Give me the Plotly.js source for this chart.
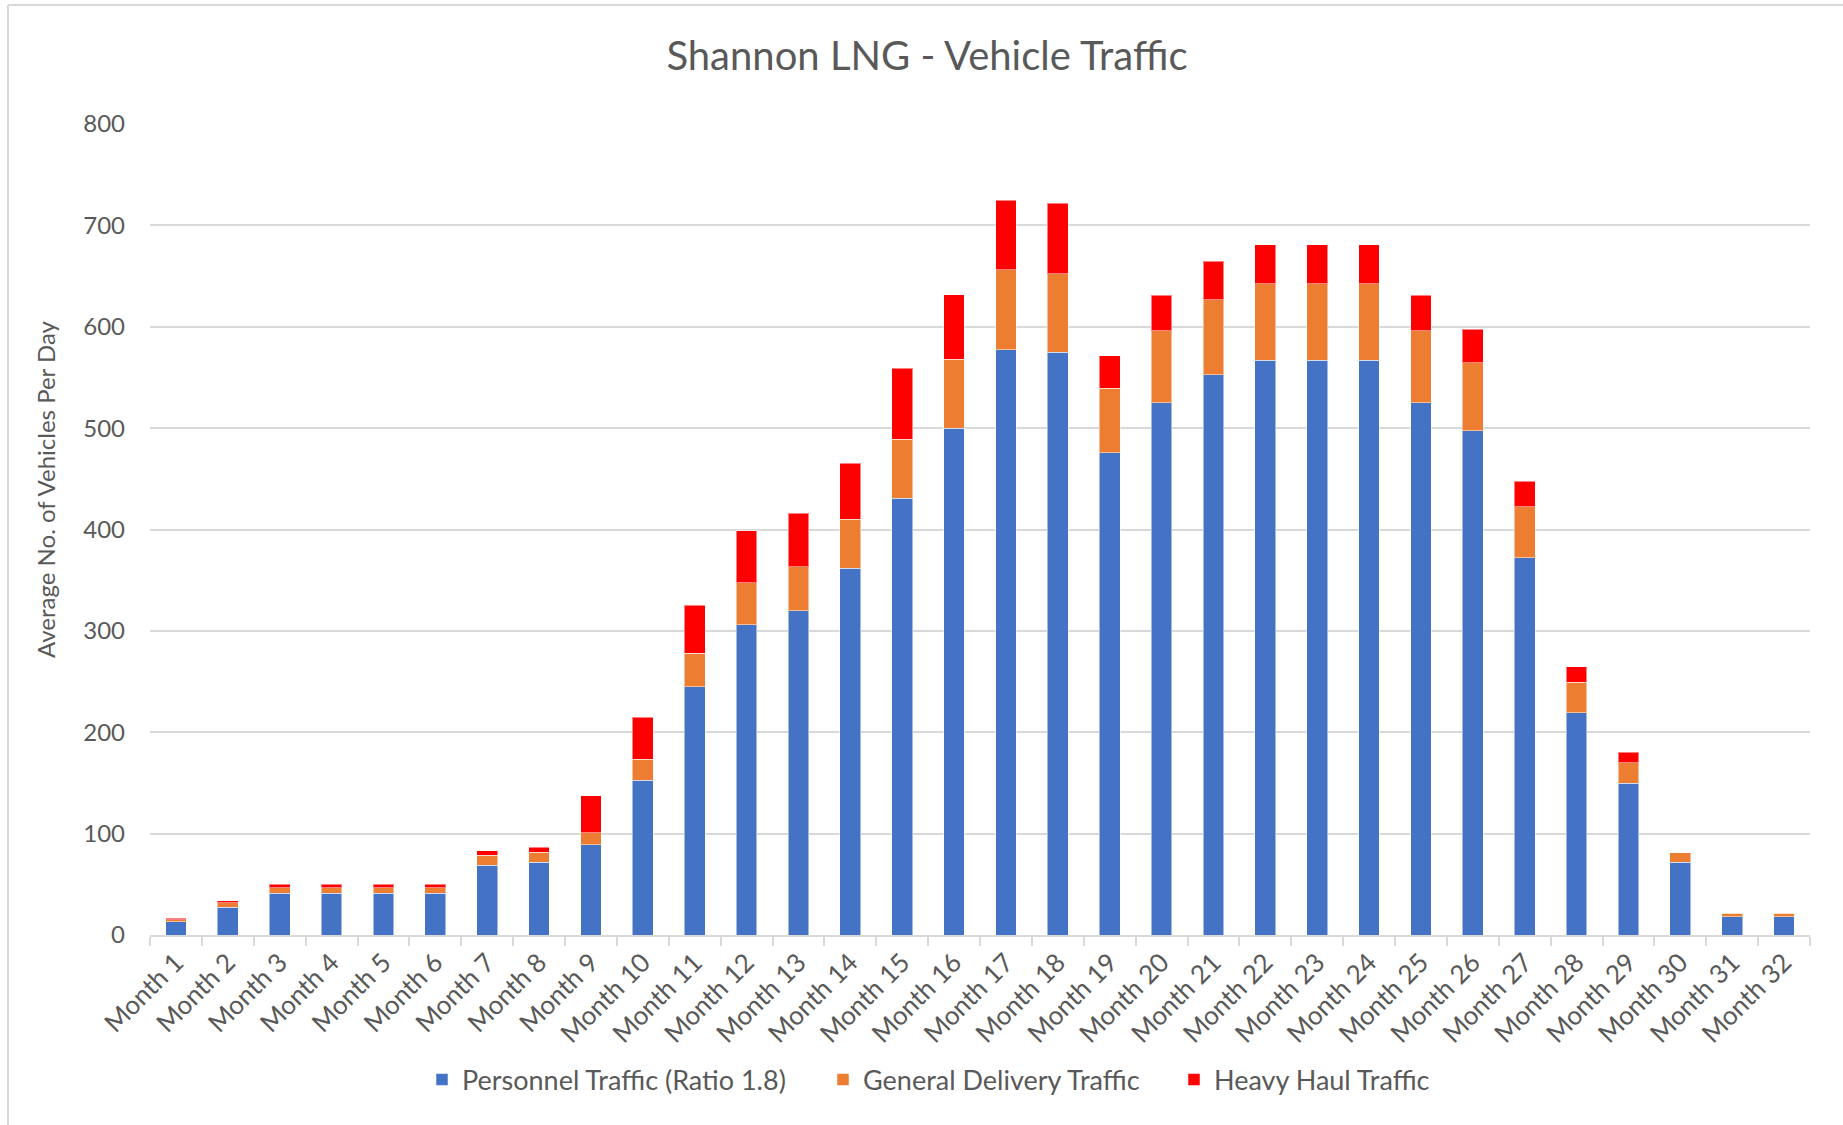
<!DOCTYPE html>
<html>
<head>
<meta charset="utf-8">
<script src="https://cdn.plot.ly/plotly-3.0.1.min.js"></script>
<style>
html,body{margin:0;padding:0;background:#fff;}
#chart{width:1843px;height:1125px;}
</style>
</head>
<body>
<div id="chart"></div>
<script>
const months = Array.from({length: 32}, (_, i) => 'Month ' + (i + 1));

const personnel = [13.2, 27.2, 41.1, 41.1, 41.1, 41.1, 68.9, 71.9, 88.8, 152.6,
  244.7, 305.9, 319.7, 361.7, 430.6, 500, 577.3, 575, 475.6, 524.8,
  552.7, 566.8, 566.8, 566.8, 524.8, 497.2, 372.2, 219, 149.7, 71.7, 18.1, 18.1];

const generalDelivery = [1.7, 4.6, 5.6, 5.6, 5.6, 5.6, 9.6, 9.6, 12.2, 20.8,
  33.3, 41.4, 43.6, 48.5, 58.4, 67.8, 78.7, 77.1, 63.6, 71.2,
  74.1, 75.8, 75.8, 75.8, 71.2, 67.3, 50.2, 30.3, 20.4, 9.6, 3.6, 3.6];

const heavyHaul = [1.7, 2.0, 3.3, 3.3, 3.3, 3.3, 4.6, 5.3, 36.5, 41.4,
  47.3, 51.5, 52.5, 55.2, 69.9, 63.9, 68.9, 69.9, 32.2, 35.0,
  37.8, 38.4, 38.4, 38.4, 35.0, 33.1, 25.3, 15.3, 10.2, 0, 0, 0];

const seriesNames = ['Personnel Traffic (Ratio 1.8)', 'General Delivery Traffic', 'Heavy Haul Traffic'];
const seriesColors = ['#4472C4', '#ED7D31', '#FF0000'];
const seriesValues = [personnel, generalDelivery, heavyHaul];

const yTicks = [0, 100, 200, 300, 400, 500, 600, 700, 800];
const yTitle = 'Average No. of Vehicles Per Day';
const chartTitle = 'Shannon LNG - Vehicle Traffic';

const FONT = 'Lato, "Open Sans", sans-serif';
const TXT = '#595959';

const legendIds = ['legend', 'legend2', 'legend3'];

const traces = seriesValues.map((vals, i) => ({
  type: 'bar',
  name: seriesNames[i],
  x: months,
  y: vals,
  legend: legendIds[i],
  marker: {color: seriesColors[i], line: {color: 'rgba(255,255,255,0.5)', width: 1}},
  hoverinfo: 'x+y+name'
}));

// plot area in pixels
const W = 1843, H = 1125;
const L = 150, R = 33, T = 124, B = 190;
const pw = W - L - R, ph = H - T - B;
const px2x = p => (p - L) / pw;
const py2y = p => (T + ph - p) / ph;

// legend entry left edges (pixels)
const legendLeft = [422, 823, 1174];

const layout = {
  width: W, height: H,
  margin: {l: L, r: R, t: T, b: B, pad: 0},
  paper_bgcolor: '#ffffff',
  plot_bgcolor: '#ffffff',
  barmode: 'stack',
  bargap: 0.6,
  font: {family: FONT, color: TXT},
  showlegend: true,
  title: {
    text: chartTitle,
    font: {family: FONT, size: 40, color: TXT},
    x: px2x(927), xref: 'paper', xanchor: 'center',
    y: 1 - 56 / H, yref: 'container', yanchor: 'middle'
  },
  xaxis: {
    type: 'category',
    tickangle: -45,
    tickfont: {family: FONT, size: 26, color: TXT},
    showgrid: false,
    showline: true, linecolor: '#d9d9d9', linewidth: 2,
    ticks: 'outside', tickson: 'boundaries', ticklen: 9, tickcolor: '#d9d9d9', tickwidth: 2,
    zeroline: false,
    fixedrange: true
  },
  yaxis: {
    range: [0, 800],
    tickvals: yTicks,
    ticktext: yTicks.map(String),
    tickfont: {family: FONT, size: 24, color: TXT},
    showgrid: true, gridcolor: '#d9d9d9', gridwidth: 2,
    zeroline: false,
    showline: false,
    ticks: '',
    ticklabelstandoff: 24,
    fixedrange: true
  },
  annotations: [{
    text: yTitle,
    xref: 'paper', yref: 'paper',
    x: px2x(45), y: py2y(489),
    xanchor: 'center', yanchor: 'middle',
    textangle: -90,
    showarrow: false,
    font: {family: FONT, size: 24, color: TXT}
  }],
  shapes: [
    {type: 'line', xref: 'paper', yref: 'paper', x0: px2x(8), x1: px2x(1843), y0: py2y(5), y1: py2y(5),
     line: {color: '#d9d9d9', width: 2}, layer: 'below'},
    {type: 'line', xref: 'paper', yref: 'paper', x0: px2x(8), x1: px2x(8), y0: py2y(5), y1: py2y(1125),
     line: {color: '#d9d9d9', width: 2}, layer: 'below'}
  ]
};

legendIds.forEach((id, i) => {
  layout[id] = {
    orientation: 'h',
    x: px2x(legendLeft[i]), xanchor: 'left',
    y: py2y(1080), yanchor: 'middle',
    font: {family: FONT, size: 27, color: TXT},
    bgcolor: 'rgba(0,0,0,0)'
  };
});

Plotly.newPlot('chart', traces, layout, {displayModeBar: false, staticPlot: true});
</script>
</body>
</html>
